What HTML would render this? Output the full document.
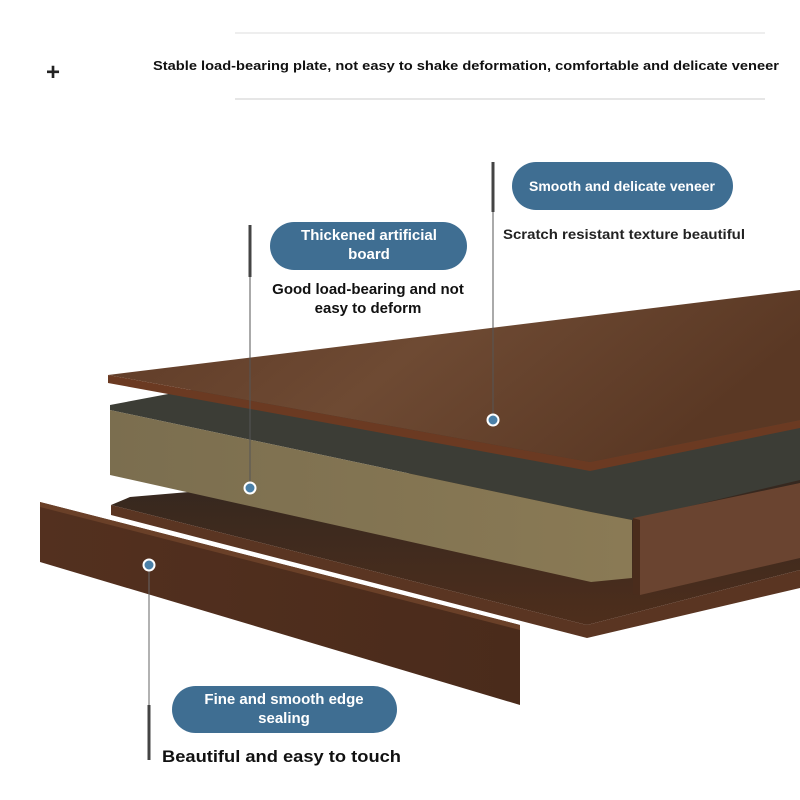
<!DOCTYPE html>
<html><head><meta charset="utf-8"><style>
html,body{margin:0;padding:0;background:#fff;}
svg{display:block;}
text{font-family:"Liberation Sans",sans-serif;font-weight:bold;}
</style></head><body>
<svg width="800" height="800" viewBox="0 0 800 800" xmlns="http://www.w3.org/2000/svg">
<defs>
<linearGradient id="wood" x1="0" y1="0" x2="1" y2="0.3">
<stop offset="0" stop-color="#5e3a26"/><stop offset="0.5" stop-color="#6e4a33"/><stop offset="1" stop-color="#5a3824"/>
</linearGradient>
<linearGradient id="strip" x1="0" y1="0" x2="1" y2="0">
<stop offset="0" stop-color="#53301f"/><stop offset="1" stop-color="#4a2b1b"/>
</linearGradient>
<linearGradient id="cork" x1="0" y1="0" x2="1" y2="0">
<stop offset="0" stop-color="#7b6e4f"/><stop offset="1" stop-color="#8a7a55"/>
</linearGradient>
<linearGradient id="bot" x1="0" y1="0" x2="0" y2="1">
<stop offset="0" stop-color="#2e2620"/><stop offset="1" stop-color="#4e2e1c"/>
</linearGradient>
</defs>
<!-- header -->
<line x1="235" y1="33" x2="765" y2="33" stroke="#ddd" stroke-width="1"/>
<line x1="235" y1="99" x2="765" y2="99" stroke="#ccc" stroke-width="1"/>
<text x="53" y="80" font-size="24" font-weight="normal" text-anchor="middle" fill="#222">+</text>
<text x="153" y="70" font-size="13" textLength="626" lengthAdjust="spacingAndGlyphs" fill="#111">Stable load-bearing plate, not easy to shake deformation, comfortable and delicate veneer</text>

<!-- bottom veneer -->
<polygon points="130,497 800,440 800,570 587,625 111,505" fill="url(#bot)"/>
<polygon points="111,505 587,625 800,570 800,588 587,638 111,515" fill="#5a3522"/>
<!-- particle board -->
<polygon points="110,405 200,388 800,330 800,480 632,520 591,512 110,410" fill="#3c3d36"/>
<polygon points="110,410 591,512 632,520 632,578 591,582 110,475" fill="url(#cork)"/>
<!-- right edge band -->
<polygon points="633,518 800,483 800,558 640,595" fill="#6a4430"/>
<polygon points="633,518 640,520 640,595 633,594" fill="#4a2c1c"/>
<!-- top veneer -->
<polygon points="108,375 800,290 800,420 590,462" fill="url(#wood)"/>
<polygon points="108,375 590,462 800,420 800,428 590,471 108,383" fill="#6b3a22"/>
<!-- front strip -->
<polygon points="40,502 520,625 520,705 40,562" fill="url(#strip)"/>
<polygon points="40,502 520,625 520,630 40,507" fill="#6a4028"/>

<!-- leader lines -->
<line x1="493" y1="162" x2="493" y2="212" stroke="#444" stroke-width="3"/>
<line x1="493" y1="212" x2="493" y2="420" stroke="#555" stroke-width="1"/>
<line x1="250" y1="225" x2="250" y2="277" stroke="#444" stroke-width="3"/>
<line x1="250" y1="277" x2="250" y2="488" stroke="#555" stroke-width="1"/>
<line x1="149" y1="565" x2="149" y2="705" stroke="#666" stroke-width="1"/>
<line x1="149" y1="705" x2="149" y2="760" stroke="#444" stroke-width="3"/>
<circle cx="493" cy="420" r="5.5" fill="#4a80a8" stroke="#fff" stroke-width="2"/>
<circle cx="250" cy="488" r="5.5" fill="#4a80a8" stroke="#fff" stroke-width="2"/>
<circle cx="149" cy="565" r="5.5" fill="#4a80a8" stroke="#fff" stroke-width="2"/>

<!-- pills -->
<rect x="512" y="162" width="221" height="48" rx="24" fill="#3f6e92"/>
<text x="622" y="191" font-size="14" text-anchor="middle" fill="#fff">Smooth and delicate veneer</text>
<text x="503" y="239" font-size="13.5" fill="#222" textLength="242" lengthAdjust="spacingAndGlyphs">Scratch resistant texture beautiful</text>

<rect x="270" y="222" width="197" height="48" rx="24" fill="#3f6e92"/>
<text x="369" y="240" font-size="15" text-anchor="middle" fill="#fff">Thickened artificial</text>
<text x="369" y="259" font-size="15" text-anchor="middle" fill="#fff">board</text>
<text x="368" y="294" font-size="15" text-anchor="middle" fill="#111">Good load-bearing and not</text>
<text x="368" y="313" font-size="15" text-anchor="middle" fill="#111">easy to deform</text>

<rect x="172" y="686" width="225" height="47" rx="23.5" fill="#3f6e92"/>
<text x="284" y="704" font-size="15" text-anchor="middle" fill="#fff">Fine and smooth edge</text>
<text x="284" y="723" font-size="15" text-anchor="middle" fill="#fff">sealing</text>
<text x="162" y="762" font-size="17" fill="#111" textLength="239" lengthAdjust="spacingAndGlyphs">Beautiful and easy to touch</text>
</svg>
</body></html>
